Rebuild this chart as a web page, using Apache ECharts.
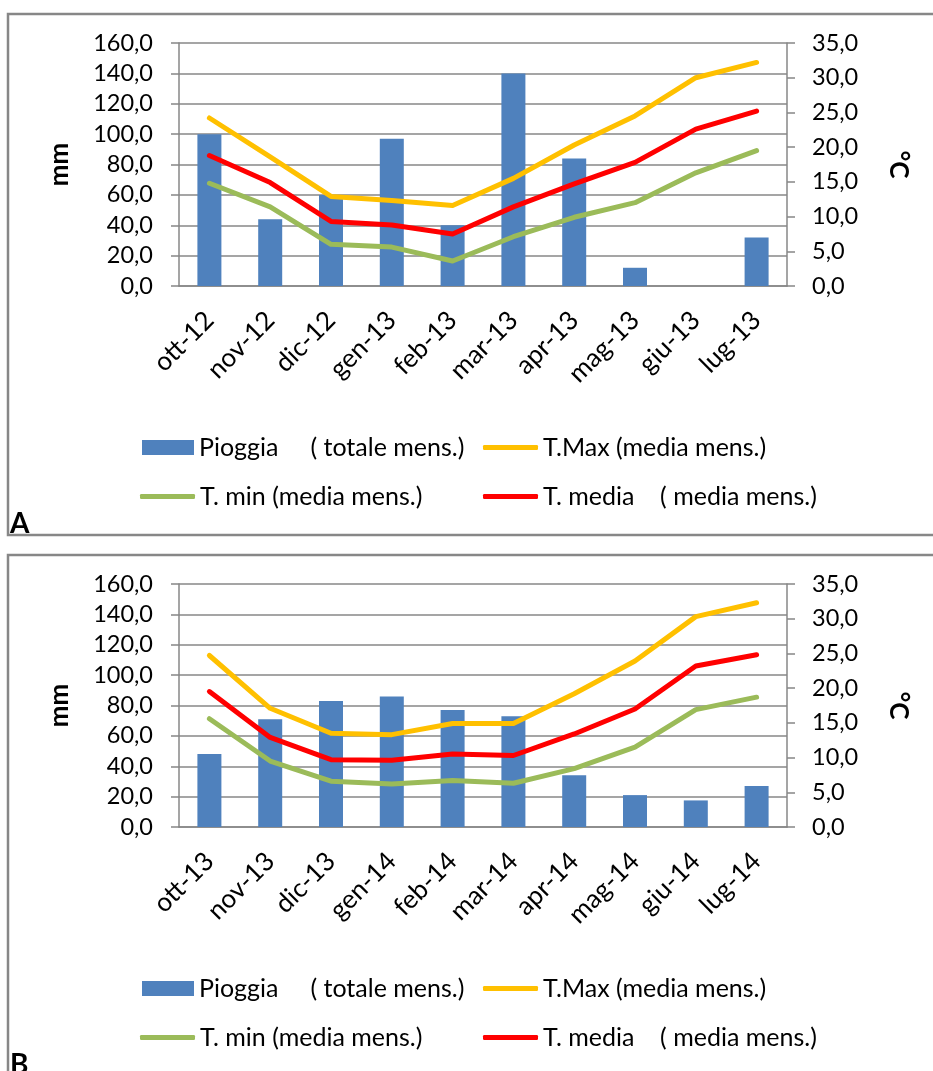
<!DOCTYPE html>
<html>
<head>
<meta charset="utf-8">
<script src="https://cdn.jsdelivr.net/npm/echarts@6/dist/echarts.min.js"></script>
<style>
  html, body { margin: 0; padding: 0; background: #fff; }
  #chart { width: 933px; height: 1071px; }
</style>
</head>
<body>
<div id="chart"></div>
<script>
// dati grafico A (ott-12 / lug-13)
var mesiA = ['ott-12', 'nov-12', 'dic-12', 'gen-13', 'feb-13', 'mar-13', 'apr-13', 'mag-13', 'giu-13', 'lug-13'];
var pioggiaA = [100, 44, 60, 97, 40, 140, 84, 12, 0, 32];
var tMaxA = [24.2, 18.6, 12.9, 12.3, 11.6, 15.5, 20.3, 24.5, 30.0, 32.2];
var tMinA = [14.8, 11.4, 6.0, 5.6, 3.6, 7.1, 9.9, 12.0, 16.3, 19.5];
var tMediaA = [18.8, 14.9, 9.3, 8.8, 7.5, 11.4, 14.7, 17.8, 22.6, 25.2];

// dati grafico B (ott-13 / lug-14)
var mesiB = ['ott-13', 'nov-13', 'dic-13', 'gen-14', 'feb-14', 'mar-14', 'apr-14', 'mag-14', 'giu-14', 'lug-14'];
var pioggiaB = [48, 71, 83, 86, 77, 73, 34, 21, 17.5, 27];
var tMaxB = [24.7, 17.1, 13.5, 13.3, 14.9, 14.9, 19.2, 23.9, 30.3, 32.3];
var tMinB = [15.6, 9.5, 6.6, 6.2, 6.7, 6.3, 8.4, 11.5, 16.9, 18.7];
var tMediaB = [19.5, 12.9, 9.7, 9.6, 10.5, 10.3, 13.4, 17.0, 23.2, 24.8];

var nomi = ['Pioggia     ( totale mens.)', 'T.Max (media mens.)', 'T. min (media mens.)', 'T. media    ( media mens.)'];
var colori = ['#4F81BD', '#FFC000', '#9BBB59', '#FF0000'];

var FONT = 'Lato';
var GRIGIO = '#878787';

function virgola(v) { return v.toFixed(1).replace('.', ','); }

var option = {
    backgroundColor: '#fff',
    animation: false,
    textStyle: { fontFamily: FONT },
    grid: [],
    xAxis: [],
    yAxis: [],
    legend: [],
    series: [],
    graphic: []
};

function aggiungiGrafico(i, dy, mesi, pioggia, tMax, tMin, tMedia, lettera) {
    option.grid.push({ left: 179, right: 146, top: 43 + dy, height: 243, containLabel: false });
    option.xAxis.push({
        type: 'category', gridIndex: i, data: mesi, boundaryGap: true,
        axisLine: { lineStyle: { color: GRIGIO, width: 1.5 } },
        axisTick: { interval: 0, length: 8, lineStyle: { color: GRIGIO, width: 1.5 } },
        axisLabel: { interval: 0, rotate: 45, margin: 30, fontSize: 26, color: '#000', fontFamily: FONT }
    });
    option.yAxis.push({
        type: 'value', gridIndex: i, min: 0, max: 160, interval: 20,
        name: 'mm', nameLocation: 'middle', nameRotate: 90, nameGap: 106,
        nameTextStyle: { fontSize: 26, fontWeight: 'bold', color: '#000', fontFamily: FONT },
        axisLine: { show: true, lineStyle: { color: GRIGIO, width: 1.5 } },
        axisTick: { show: true, length: 8, lineStyle: { color: GRIGIO, width: 1.5 } },
        axisLabel: { margin: 26, fontSize: 23.5, color: '#000', formatter: virgola, fontFamily: FONT },
        splitLine: { lineStyle: { color: GRIGIO, width: 1.5 } }
    });
    option.yAxis.push({
        type: 'value', gridIndex: i, position: 'right', min: 0, max: 35, interval: 5,
        name: '°C', nameLocation: 'middle', nameRotate: -90, nameGap: 98,
        nameTextStyle: { fontSize: 26, fontWeight: 'bold', color: '#000', fontFamily: FONT },
        axisLine: { show: true, lineStyle: { color: GRIGIO, width: 1.5 } },
        axisTick: { show: true, length: 8, lineStyle: { color: GRIGIO, width: 1.5 } },
        axisLabel: { margin: 25, fontSize: 23.5, color: '#000', formatter: virgola, fontFamily: FONT },
        splitLine: { show: false }
    });

    option.series.push({
        name: nomi[0], type: 'bar', xAxisIndex: i, yAxisIndex: 2 * i,
        data: pioggia, barWidth: 24, itemStyle: { color: colori[0] }
    });
    var linee = [[nomi[1], tMax, colori[1]], [nomi[2], tMin, colori[2]], [nomi[3], tMedia, colori[3]]];
    linee.forEach(function (l) {
        option.series.push({
            name: l[0], type: 'line', xAxisIndex: i, yAxisIndex: 2 * i + 1,
            data: l[1], symbol: 'none',
            lineStyle: { color: l[2], width: 5, cap: 'round', join: 'round' },
            itemStyle: { color: l[2] }
        });
    });

    // legenda su due righe, colonne allineate come in Excel
    var pos = [[142, 435], [483, 435], [140, 484], [483, 484]];
    nomi.forEach(function (n, k) {
        var barra = k === 0;
        option.legend.push({
            data: [{ name: n, icon: barra ? 'rect' : 'roundRect' }],
            left: pos[k][0], top: pos[k][1] + dy, padding: 0,
            itemWidth: barra ? 52 : 55, itemHeight: barra ? 15 : 5, itemGap: 0,
            selectedMode: false,
            textStyle: { fontSize: 25, color: '#000', fontFamily: FONT, padding: [0, 0, 0, 0] }
        });
    });

    option.graphic.push({
        type: 'rect', silent: true,
        shape: { x: 8, y: 14 + dy, width: 1000, height: 521 },
        style: { fill: 'none', stroke: GRIGIO, lineWidth: 2.5 }
    });
    option.graphic.push({
        type: 'text', silent: true, left: 10, top: 510 + dy,
        style: { text: lettera, font: 'bold 28px ' + FONT, fill: '#000' }
    });
}

aggiungiGrafico(0, 0, mesiA, pioggiaA, tMaxA, tMinA, tMediaA, 'A');
aggiungiGrafico(1, 541, mesiB, pioggiaB, tMaxB, tMinB, tMediaB, 'B');

var myChart = echarts.init(document.getElementById('chart'));
myChart.setOption(option);
</script>
</body>
</html>
